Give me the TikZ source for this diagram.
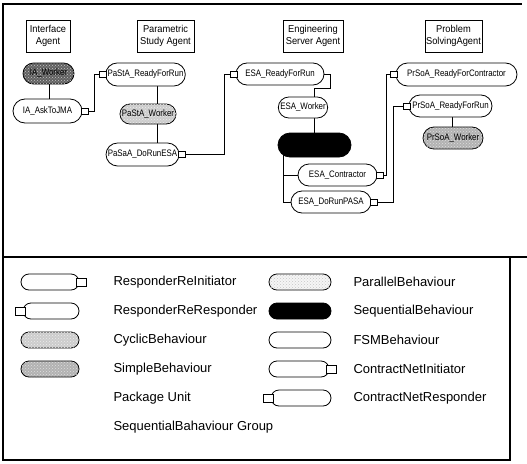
\documentclass[tikz,border=0pt]{standalone}
\usepackage{fontspec}
\setmainfont{Liberation Sans}
\newfontfamily\behfont[FakeStretch=0.84]{Liberation Sans}
\newfontfamily\agentfont[FakeStretch=0.93]{Liberation Sans}
\usetikzlibrary{shapes.misc,backgrounds,patterns}

\begin{document}
\begin{tikzpicture}[x=1pt,y=-1pt,
  beh/.style={rounded rectangle, draw, line width=0.8pt, fill=white,
    inner xsep=1pt, inner ysep=0pt, minimum height=22pt,
    font=\behfont\fontsize{9.4}{11}\selectfont},
  speckle/.style={postaction={pattern=crosshatch dots, pattern color=#1}},
  cyclic/.style={beh, fill=gray!40, speckle=white!85!gray},
  simple/.style={beh, fill=gray!60, speckle=white!75!gray},
  darkbeh/.style={beh, fill=black!62, speckle=gray!45},
  seqbeh/.style={beh, fill=black},
  parbeh/.style={beh, fill=gray!8, speckle=gray!45},
  port/.style={rectangle, draw, fill=white, line width=0.6pt,
    minimum width=7pt, minimum height=6pt, inner sep=0pt},
  lport/.style={port, minimum width=10pt, minimum height=8pt},
  agent/.style={rectangle, draw, line width=0.6pt, align=center,
    inner sep=1pt, minimum height=32pt,
    font=\agentfont\fontsize{10}{12.5}\selectfont},
  wire/.style={line width=0.6pt},
  frame/.style={line width=1.2pt},
  lshape/.style={minimum height=16pt, line width=0.8pt},
  ltext/.style={anchor=west, font=\fontsize{13}{15}\selectfont}
]
\useasboundingbox (0,0) rectangle (527,463);

% outer frames
\draw[frame] (527,257) -- (3,257) -- (3,4) -- (522,4);
\draw[frame] (3,257) rectangle (510,460);

% agent headers
\node[agent, minimum width=44pt] (hIA) at (48,36) {Interface\\Agent};
\node[agent, minimum width=57pt] (hPA) at (165.5,36) {Parametric\\Study Agent};
\node[agent, minimum width=60pt] (hES) at (313,36) {Engineering\\Server Agent};
\node[agent, minimum width=57pt] (hPS) at (453.5,36) {Problem\\SolvingAgent};

% interface agent
\node[darkbeh, minimum width=53pt, minimum height=21pt] (iaw) at (48.5,73.5) {IA\_Worker};
\node[beh, minimum width=71pt, minimum height=24pt] (iaask) at (47.5,111) {IA\_AskToJMA};
\node[port] (iaaskP) at ([xshift=2pt]iaask.east) {};

% parametric study agent
\node[beh, minimum width=77pt, minimum height=23pt] (parfr) at (145.5,74.5) {PaStA\_ReadyForRun};
\node[port] (parfrP) at ([xshift=-2pt]parfr.west) {};
\node[cyclic, minimum width=50pt, minimum height=20pt] (paw) at (148,114) {PaStA\_Worker};
\node[beh, minimum width=65pt, minimum height=23pt] (padr) at (142.5,154.5) {PaSaA\_DoRunESA};
\node[port] (padrP) at ([xshift=2pt]padr.east) {};

% engineering server agent
\node[beh, minimum width=90pt] (esrfr) at (280,74) {ESA\_ReadyForRun};
\node[port] (esrfrP) at ([xshift=-2pt]esrfr.west) {};
\node[beh, minimum width=40pt, minimum height=21pt] (esw) at (303,107.5) {ESA\_Worker};
\node[seqbeh, minimum width=75pt, minimum height=24pt] (esseq) at (314.5,145) {};
\node[beh, minimum width=81pt] (esc) at (337.5,175) {ESA\_Contractor};
\node[port] (escP) at ([xshift=2pt]esc.east) {};
\node[beh, minimum width=82pt] (esd) at (331,202) {ESA\_DoRunPASA};
\node[port] (esdP) at ([xshift=2pt]esd.east) {};

% problem solving agent
\node[beh, minimum width=123pt, minimum height=23pt] (psrfc) at (456.5,74.5) {PrSoA\_ReadyForContractor};
\node[port] (psrfcP) at ([xshift=-2pt]psrfc.west) {};
\node[beh, minimum width=85pt] (psrfr) at (450.5,106) {PrSoA\_ReadyForRun};
\node[port] (psrfrP) at ([xshift=-2pt]psrfr.west) {};
\node[simple, minimum width=62pt] (psw) at (453,138) {PrSoA\_Worker};

% routing columns
\coordinate (xIA) at (49,0);
\coordinate (xPA) at (157,0);
\coordinate (kES) at (314,88);
\coordinate (xSQ) at (283,0);
\coordinate (xPS) at (452,0);

\begin{scope}[on background layer]
  \draw[wire] (iaw.center -| xIA) -- (iaask.center -| xIA);
  \draw[wire] (parfr.center -| xPA) -- (padr.center -| xPA);
  \draw[wire] (esw.center -| kES) -- (esseq.center -| kES);
  \draw[wire] (esseq.center -| xSQ) |- (esc.center);
  \draw[wire] (esseq.center -| xSQ) |- (esd.center);
  \draw[wire] (psrfr.center -| xPS) -- (psw.center -| xPS);
\end{scope}

% links between agents
\draw[wire] (iaaskP.east) -- ++(6,0) |- (parfrP.west);
\draw[wire] (padrP.east) -- ++(39.5,0) |- (esrfrP.west);
\draw[wire] (esrfr.east) -- ++(6,0) |- (kES) -- (esw.north -| kES);
\draw[wire] (escP.east) -- ++(3,0) |- (psrfcP.west);
\draw[wire] (esdP.east) -- ++(16,0) |- (psrfrP.west);

% legend, left column
\node[beh, lshape, minimum width=60pt] (l1) at (50,282) {};
\node[lport] (l1P) at ([xshift=2pt]l1.east) {};
\node[ltext] (t1) at (110,282) {ResponderReInitiator};
\node[beh, lshape, minimum width=58pt] (l2) at (51,311) {};
\node[lport] (l2P) at ([xshift=-2pt]l2.west) {};
\node[ltext] (t2) at (110,311) {ResponderReResponder};
\node[cyclic, lshape, minimum width=60pt] (l3) at (50,340) {};
\node[ltext] (t3) at (110,340) {CyclicBehaviour};
\node[simple, lshape, minimum width=60pt] (l4) at (50,369) {};
\node[ltext] (t4) at (110,369) {SimpleBehaviour};
\node[ltext] (t5) at (110,398) {Package Unit};
\node[ltext] (t6) at (110,427) {SequentialBahaviour Group};

% legend, right column
\node[parbeh, lshape, minimum width=64pt] (r1) at (300,282) {};
\node[ltext] (u1) at (350,282) {ParallelBehaviour};
\node[seqbeh, lshape, minimum width=64pt] (r2) at (300,311) {};
\node[ltext] (u2) at (350,311) {SequentialBehaviour};
\node[beh, lshape, minimum width=64pt] (r3) at (300,340) {};
\node[ltext] (u3) at (350,340) {FSMBehaviour};
\node[beh, lshape, minimum width=62pt] (r4) at (299,369) {};
\node[lport] (r4P) at ([xshift=2pt]r4.east) {};
\node[ltext] (u4) at (350,369) {ContractNetInitiator};
\node[beh, lshape, minimum width=62pt] (r5) at (301,398) {};
\node[lport] (r5P) at ([xshift=-2pt]r5.west) {};
\node[ltext] (u5) at (350,398) {ContractNetResponder};
\end{tikzpicture}
\end{document}
